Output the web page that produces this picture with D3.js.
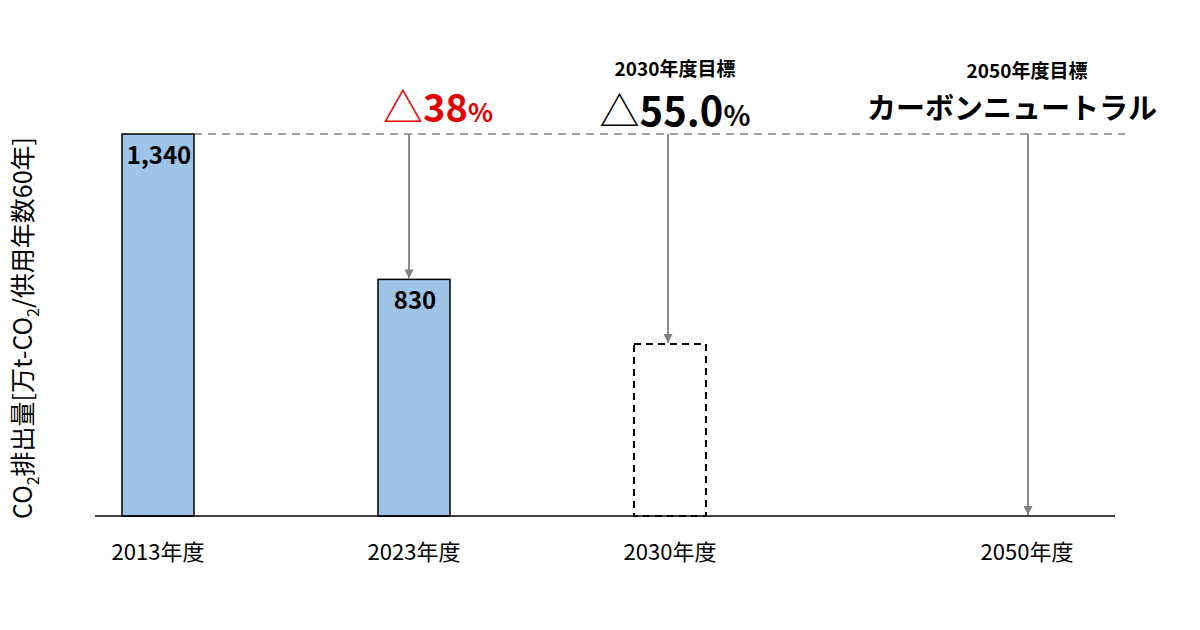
<!DOCTYPE html>
<html lang="ja">
<head>
  <meta charset="UTF-8">
  <title>CO2排出量</title>
  <style>
    body { margin: 0; background: #fff; }
    svg text { font-family: "Noto Sans CJK JP", "Noto Sans", sans-serif; }
  </style>
</head>
<body>
  <svg class="chart" width="1200" height="630"></svg>
  <script src="https://cdn.jsdelivr.net/npm/d3@7"></script>
  <script>
    // data
    var years = ["2013年度", "2023年度", "2030年度", "2050年度"];
    var values = [1340, 830, 603, 0];
    var valueLabels = ["1,340", "830", "", ""];
    var isTarget = [false, false, true, true];
    var goalTitles = ["", "", "2030年度目標", "2050年度目標"];
    var goalTexts = ["", "△38%", "△55.0%", "カーボンニュートラル"];

    var svg = d3.select(".chart");
    var baseY = 516, topY = 134;

    // x centers are not evenly spaced in the original
    var xIdx = d3.scaleLinear().domain([0, 1, 2, 3]).range([158, 414, 670, 1027]);
    var x = function(d) { return xIdx(years.indexOf(d)); };
    var barW = 72;

    var y = d3.scaleLinear().domain([0, 1340]).range([baseY, topY]);

    // y label
    svg.append("text")
      .attr("transform", "translate(32,328) rotate(-90)")
      .attr("text-anchor", "middle")
      .style("font-size", "25px")
      .html('CO<tspan dy="7" font-size="16">2</tspan><tspan dy="-7">排出量[万t-CO</tspan><tspan dy="7" font-size="16">2</tspan><tspan dy="-7">/供用年数60年]</tspan>');

    // reference dashed line at 2013 level
    svg.append("line")
      .attr("x1", x(years[0]) + barW / 2).attr("x2", 1125)
      .attr("y1", y(values[0])).attr("y2", y(values[0]))
      .attr("stroke", "#7f7f7f").attr("stroke-width", 1.5)
      .attr("stroke-dasharray", "8,6");

    // bars
    var data = years.map(function(d, i) {
      return {year: d, value: values[i], label: valueLabels[i], target: isTarget[i], title: goalTitles[i], goal: goalTexts[i]};
    });

    svg.selectAll("rect.bar")
      .data(data.filter(function(d) { return d.value > 0; }))
      .enter().append("rect")
      .attr("class", "bar")
      .attr("x", function(d) { return x(d.year) - barW / 2; })
      .attr("y", function(d) { return y(d.value); })
      .attr("width", barW)
      .attr("height", function(d) { return baseY - y(d.value); })
      .attr("fill", function(d) { return d.target ? "none" : "#9dc3e6"; })
      .attr("stroke", "#000")
      .attr("stroke-width", function(d) { return d.target ? 2 : 1.5; })
      .attr("stroke-dasharray", function(d) { return d.target ? "7,5" : null; });

    svg.selectAll("text.val")
      .data(data.filter(function(d) { return d.label; }))
      .enter().append("text")
      .attr("class", "val")
      .attr("x", function(d) { return x(d.year) + 1; })
      .attr("y", function(d) { return y(d.value) + 30; })
      .attr("text-anchor", "middle")
      .style("font-size", "24px")
      .style("font-weight", "bold")
      .text(function(d) { return d.label; });

    // x axis
    var xAxis = svg.append("g")
      .attr("transform", "translate(0," + baseY + ")");
    xAxis.append("line")
      .attr("x1", 95).attr("x2", 1115)
      .attr("stroke", "#000").attr("stroke-width", 1.5);
    xAxis.selectAll("text")
      .data(years)
      .enter().append("text")
      .attr("x", function(d) { return x(d); })
      .attr("y", 44)
      .attr("text-anchor", "middle")
      .style("font-size", "22px")
      .text(function(d) { return d; });

    // arrows
    svg.append("defs").append("marker")
      .attr("id", "arr")
      .attr("viewBox", "0 0 10 10")
      .attr("refX", 10).attr("refY", 5)
      .attr("markerWidth", 9).attr("markerHeight", 9)
      .attr("markerUnits", "userSpaceOnUse")
      .attr("orient", "auto")
      .append("path").attr("d", "M0,0L10,5L0,10z").attr("fill", "#7f7f7f");

    var arrowOff = [0, -5, -2, 1];
    svg.selectAll("line.arrow")
      .data(data.slice(1))
      .enter().append("line")
      .attr("class", "arrow")
      .attr("x1", function(d) { return x(d.year) + arrowOff[years.indexOf(d.year)]; })
      .attr("x2", function(d) { return x(d.year) + arrowOff[years.indexOf(d.year)]; })
      .attr("y1", y(values[0]))
      .attr("y2", function(d) { return y(d.value) - 1; })
      .attr("stroke", "#7f7f7f").attr("stroke-width", 1.8)
      .attr("marker-end", "url(#arr)");

    // goal annotations
    svg.append("text")
      .attr("x", 438).attr("y", 122)
      .attr("text-anchor", "middle")
      .attr("fill", "#e60000")
      .style("font-weight", "bold")
      .html('<tspan font-size="40" font-weight="normal">△</tspan><tspan font-size="38">38</tspan><tspan font-size="26">%</tspan>');

    svg.append("text")
      .attr("x", x(years[2]) + 5).attr("y", 76)
      .attr("text-anchor", "middle")
      .style("font-size", "19px").style("font-weight", "bold")
      .text(goalTitles[2]);

    svg.append("text")
      .attr("x", x(years[2]) + 5).attr("y", 126)
      .attr("text-anchor", "middle")
      .attr("fill", "#000")
      .style("font-weight", "bold")
      .html('<tspan font-size="40" font-weight="normal">△</tspan><tspan font-size="40">55.0</tspan><tspan font-size="28">%</tspan>');

    svg.append("text")
      .attr("x", x(years[3])).attr("y", 78)
      .attr("text-anchor", "middle")
      .style("font-size", "19px").style("font-weight", "bold")
      .text(goalTitles[3]);

    svg.append("text")
      .attr("x", 1012).attr("y", 119)
      .attr("text-anchor", "middle")
      .style("font-size", "29px").style("font-weight", "bold")
      .text(goalTexts[3]);
  </script>
</body>
</html>
